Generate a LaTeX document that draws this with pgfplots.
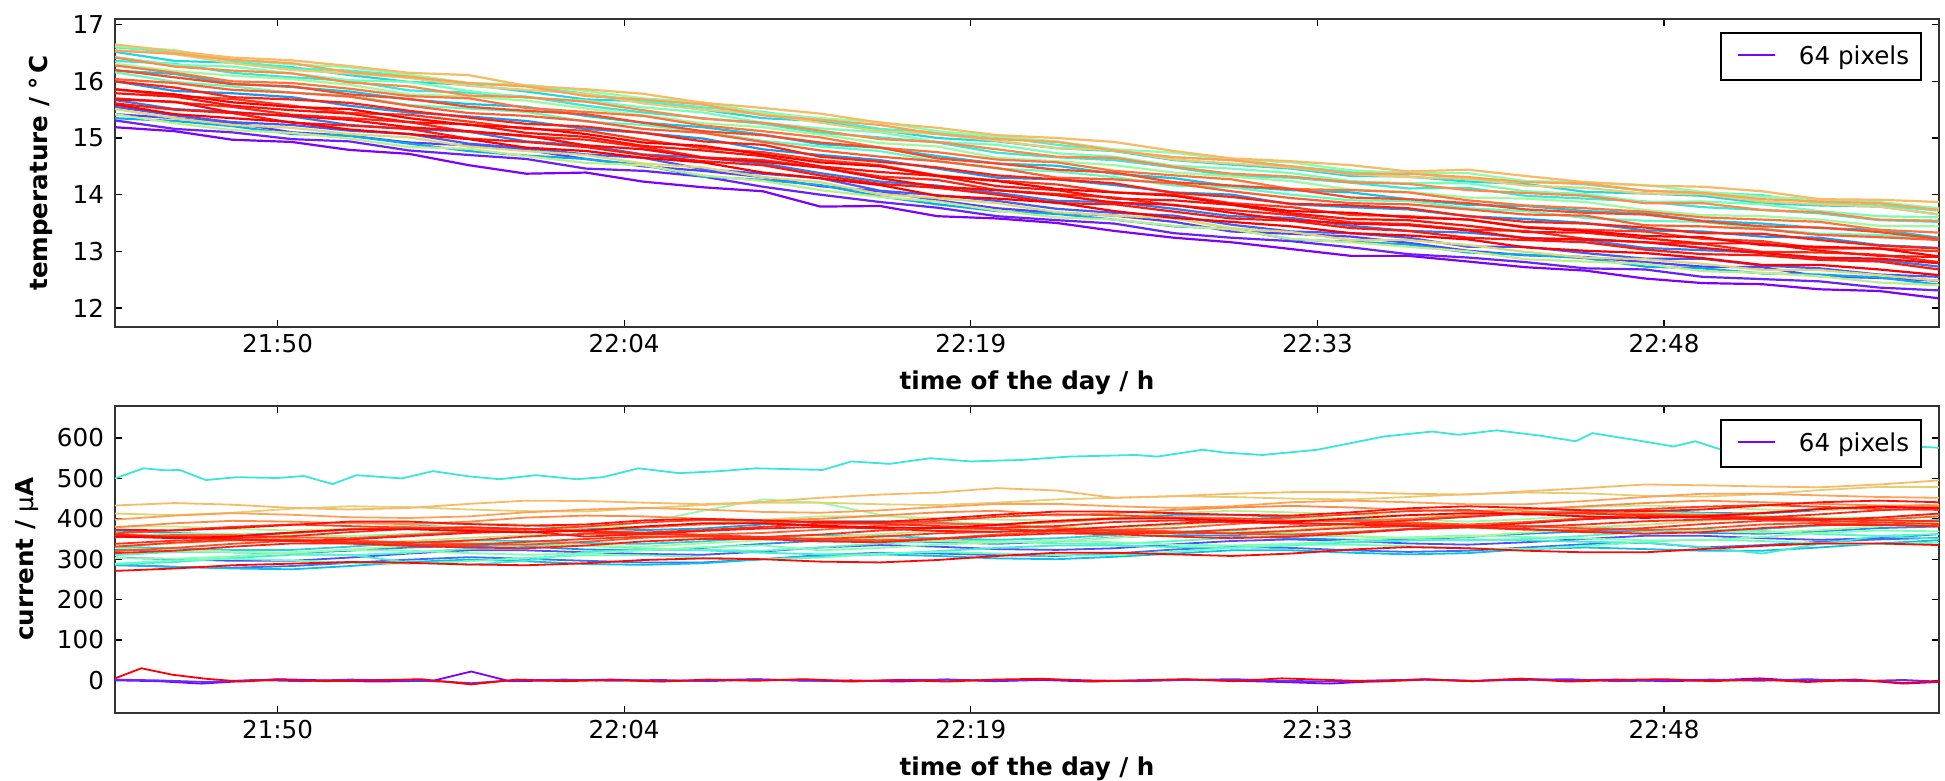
\documentclass[border=0pt]{standalone}
\usepackage{fontspec}
\setmainfont{DejaVu Sans}
\usepackage{pgfplots}
\usepackage{pgfplotstable}
\pgfplotsset{compat=1.18}

% matplotlib "rainbow" colour for a pixel position c in [0,1]
\newcommand\rbdef[2]{%
  \pgfmathsetmacro\rbR{min(1,abs(2*#2-0.5))}%
  \pgfmathsetmacro\rbG{sin(180*#2)}%
  \pgfmathsetmacro\rbB{cos(90*#2)}%
  \definecolor{#1}{rgb}{\rbR,\rbG,\rbB}}
\definecolor{r00}{rgb}{0.5,0,1}
\definecolor{r100}{rgb}{1,0,0}
\rbdef{r04}{0.04}\rbdef{r06}{0.06}\rbdef{r08}{0.08}\rbdef{r10}{0.10}
\rbdef{r12}{0.12}\rbdef{r15}{0.15}\rbdef{r16}{0.16}\rbdef{r19}{0.19}
\rbdef{r20}{0.20}\rbdef{r23}{0.23}\rbdef{r24}{0.24}\rbdef{r27}{0.27}
\rbdef{r28}{0.28}\rbdef{r31}{0.31}\rbdef{r32}{0.32}\rbdef{r36}{0.36}
\rbdef{r38}{0.38}\rbdef{r40}{0.40}\rbdef{r42}{0.42}\rbdef{r44}{0.44}
\rbdef{r46}{0.46}\rbdef{r48}{0.48}\rbdef{r50}{0.50}\rbdef{r52}{0.52}
\rbdef{r54}{0.54}\rbdef{r56}{0.56}\rbdef{r58}{0.58}\rbdef{r62}{0.62}
\rbdef{r66}{0.66}\rbdef{r68}{0.68}\rbdef{r70}{0.70}\rbdef{r74}{0.74}
\rbdef{r78}{0.78}\rbdef{r82}{0.82}\rbdef{r85}{0.85}\rbdef{r88}{0.88}
\rbdef{r90}{0.90}\rbdef{r91}{0.91}\rbdef{r92}{0.92}\rbdef{r93}{0.93}
\rbdef{r94}{0.94}\rbdef{r95}{0.95}\rbdef{r96}{0.96}\rbdef{r97}{0.97}
\rbdef{r98}{0.98}\rbdef{r99}{0.99}

% temperature of each pixel (one row per pixel), time in minutes after 21:00
\pgfplotstableread{
n c0 c1 c2 c3 c4 c5 c6 c7 c8 c9 c10 c11 c12 c13 c14 c15 c16 c17 c18 c19 c20 c21 c22 c23 c24 c25 c26 c27 c28 c29 c30 c31
x 43.2 45.7 48.1 50.6 53.0 55.5 58.0 60.4 62.9 65.3 67.8 70.3 72.7 75.2 77.6 80.1 82.6 85.0 87.5 89.9 92.4 94.9 97.3 99.8 102.2 104.7 107.2 109.6 112.1 114.5 117.0 119.5
L1 15.19 15.12 14.97 14.93 14.79 14.72 14.52 14.37 14.39 14.23 14.13 14.06 13.79 13.80 13.62 13.58 13.50 13.36 13.24 13.16 13.04 12.92 12.92 12.82 12.72 12.66 12.52 12.44 12.42 12.33 12.30 12.17
L2 15.31 15.16 15.10 14.98 14.94 14.78 14.70 14.63 14.46 14.42 14.32 14.14 14.00 13.87 13.77 13.62 13.55 13.49 13.32 13.24 13.18 13.07 12.95 12.89 12.81 12.70 12.68 12.55 12.51 12.47 12.36 12.31
L3 15.42 15.35 15.27 15.10 15.04 14.92 14.87 14.79 14.63 14.50 14.42 14.31 14.15 14.06 13.90 13.76 13.68 13.63 13.52 13.35 13.31 13.26 13.15 13.01 12.93 12.90 12.81 12.73 12.72 12.56 12.53 12.48
L4 15.55 15.40 15.28 15.23 15.13 15.07 14.90 14.82 14.71 14.65 14.45 14.37 14.29 14.07 13.99 13.89 13.75 13.68 13.63 13.47 13.35 13.32 13.24 13.08 13.08 12.97 12.87 12.87 12.75 12.70 12.59 12.55
L5 15.67 15.51 15.46 15.38 15.23 15.16 15.11 14.94 14.87 14.71 14.65 14.55 14.38 14.23 14.16 14.03 13.89 13.87 13.75 13.62 13.59 13.45 13.36 13.33 13.24 13.20 13.06 13.02 12.98 12.86 12.85 12.73
L6 16.00 15.83 15.79 15.72 15.57 15.45 15.38 15.30 15.16 15.09 14.99 14.80 14.70 14.61 14.46 14.30 14.27 14.17 14.04 14.00 13.83 13.78 13.74 13.62 13.57 13.50 13.37 13.35 13.26 13.24 13.11 13.06
L7 15.35 15.30 15.21 15.07 15.04 14.90 14.77 14.69 14.63 14.52 14.32 14.26 14.17 13.97 13.83 13.71 13.66 13.56 13.44 13.40 13.21 13.17 13.12 12.98 12.94 12.88 12.73 12.70 12.61 12.59 12.54 12.41
L8 16.19 16.13 15.96 15.90 15.82 15.68 15.60 15.55 15.39 15.27 15.19 15.06 14.89 14.83 14.68 14.55 14.51 14.37 14.29 14.15 14.08 14.04 13.92 13.82 13.80 13.71 13.67 13.54 13.49 13.41 13.38 13.24
L9 16.52 16.36 16.33 16.25 16.11 15.99 15.94 15.82 15.68 15.65 15.50 15.35 15.30 15.14 15.00 14.94 14.82 14.77 14.61 14.53 14.46 14.33 14.32 14.23 14.19 14.05 14.02 13.98 13.85 13.81 13.79 13.65
L10 16.36 16.31 16.15 16.07 16.01 15.84 15.80 15.73 15.57 15.45 15.35 15.25 15.09 15.01 14.92 14.74 14.66 14.61 14.48 14.33 14.30 14.21 14.11 14.12 13.98 13.93 13.88 13.78 13.73 13.67 13.55 13.52
L11 16.60 16.52 16.36 16.23 16.19 16.10 15.96 15.92 15.78 15.65 15.54 15.46 15.33 15.16 15.10 15.02 14.88 14.77 14.66 14.61 14.50 14.40 14.39 14.27 14.24 14.18 14.07 14.04 13.99 13.85 13.81 13.72
L12 16.16 15.99 15.91 15.80 15.75 15.58 15.52 15.46 15.29 15.23 15.11 14.95 14.85 14.77 14.59 14.46 14.41 14.31 14.16 14.13 14.00 13.90 13.89 13.76 13.71 13.59 13.54 13.52 13.40 13.31 13.29 13.21
L13 16.43 16.29 16.26 16.14 16.02 15.99 15.83 15.71 15.66 15.54 15.45 15.27 15.17 15.10 14.93 14.88 14.73 14.67 14.51 14.46 14.38 14.24 14.20 14.20 14.06 14.01 13.87 13.88 13.83 13.71 13.62 13.60
L14 16.62 16.55 16.38 16.30 16.25 16.12 15.97 15.94 15.83 15.70 15.63 15.44 15.35 15.28 15.12 15.03 14.94 14.80 14.74 14.62 14.57 14.43 14.38 14.38 14.24 14.22 14.17 14.05 13.96 13.92 13.87 13.76
L15 16.31 16.18 16.10 16.04 15.94 15.77 15.73 15.66 15.52 15.40 15.26 15.19 15.06 14.91 14.85 14.65 14.59 14.52 14.39 14.32 14.24 14.09 14.05 13.95 13.93 13.87 13.73 13.64 13.62 13.56 13.45 13.44
L16 15.42 15.26 15.14 15.09 14.99 14.84 14.81 14.68 14.56 14.52 14.34 14.24 14.08 13.96 13.88 13.72 13.60 13.56 13.45 13.39 13.22 13.16 13.08 13.00 12.86 12.82 12.78 12.65 12.62 12.56 12.45 12.40
L17 15.51 15.35 15.23 15.18 15.07 15.01 14.85 14.77 14.70 14.55 14.48 14.31 14.22 14.01 13.94 13.85 13.69 13.63 13.58 13.41 13.34 13.20 13.20 13.11 12.99 12.89 12.86 12.78 12.67 12.67 12.58 12.48
L18 16.55 16.48 16.32 16.20 16.14 16.06 15.92 15.85 15.78 15.61 15.50 15.42 15.27 15.12 15.07 14.95 14.82 14.79 14.62 14.55 14.48 14.36 14.31 14.28 14.16 14.12 14.02 14.01 13.88 13.83 13.79 13.65
L19 16.65 16.53 16.42 16.37 16.27 16.15 16.11 15.92 15.86 15.78 15.62 15.53 15.43 15.27 15.18 15.05 15.00 14.93 14.77 14.64 14.59 14.52 14.41 14.44 14.33 14.22 14.16 14.14 14.06 13.92 13.91 13.87
L20 16.54 16.49 16.38 16.32 16.16 16.08 15.97 15.91 15.74 15.68 15.59 15.40 15.32 15.23 15.07 14.98 14.93 14.78 14.66 14.61 14.50 14.37 14.37 14.31 14.22 14.20 14.07 14.03 13.92 13.88 13.85 13.73
L21 16.42 16.26 16.19 16.14 15.98 15.91 15.75 15.72 15.64 15.49 15.34 15.27 15.13 14.98 14.93 14.80 14.67 14.65 14.49 14.37 14.32 14.22 14.19 14.08 14.03 13.98 13.85 13.85 13.73 13.69 13.56 13.54
L22 16.28 16.15 16.00 15.97 15.87 15.74 15.70 15.53 15.46 15.39 15.22 15.12 15.01 14.83 14.75 14.62 14.57 14.42 14.34 14.27 14.10 14.08 14.04 13.90 13.81 13.76 13.70 13.60 13.56 13.52 13.38 13.33
L23 16.04 15.97 15.85 15.80 15.73 15.57 15.44 15.39 15.30 15.16 15.09 14.93 14.78 14.67 14.59 14.47 14.30 14.27 14.20 14.06 13.94 13.85 13.83 13.74 13.65 13.63 13.46 13.44 13.39 13.29 13.25 13.20
L24 16.20 16.07 15.95 15.91 15.77 15.69 15.55 15.48 15.42 15.27 15.12 15.05 14.92 14.83 14.64 14.55 14.44 14.39 14.22 14.16 14.10 13.95 13.92 13.85 13.74 13.68 13.65 13.53 13.44 13.42 13.34 13.22
L25 15.86 15.74 15.69 15.57 15.44 15.41 15.29 15.16 15.13 14.97 14.82 14.75 14.61 14.52 14.34 14.25 14.18 14.04 14.00 13.85 13.78 13.64 13.62 13.56 13.43 13.38 13.35 13.22 13.18 13.05 13.05 13.00
L26 15.70 15.63 15.55 15.41 15.35 15.28 15.11 15.03 14.97 14.84 14.66 14.61 14.48 14.32 14.26 14.08 14.01 13.95 13.81 13.73 13.64 13.51 13.48 13.38 13.36 13.22 13.16 13.13 12.99 12.98 12.94 12.81
L27 16.00 15.89 15.72 15.68 15.62 15.48 15.36 15.25 15.20 15.09 14.94 14.88 14.67 14.58 14.48 14.34 14.27 14.20 14.03 13.96 13.84 13.81 13.76 13.62 13.52 13.49 13.42 13.32 13.31 13.20 13.10 13.05
L28 15.61 15.50 15.44 15.27 15.22 15.16 14.99 14.93 14.84 14.70 14.59 14.52 14.34 14.19 14.12 14.00 13.85 13.83 13.70 13.58 13.54 13.41 13.36 13.24 13.20 13.16 13.03 12.95 12.93 12.85 12.82 12.68
L29 15.79 15.73 15.57 15.49 15.43 15.28 15.24 15.09 15.02 14.86 14.78 14.68 14.50 14.40 14.33 14.15 14.08 13.93 13.90 13.82 13.67 13.57 13.55 13.45 13.34 13.33 13.23 13.14 13.14 13.01 12.92 12.90
L30 15.59 15.42 15.35 15.28 15.15 15.07 14.98 14.83 14.77 14.65 14.57 14.39 14.29 14.17 13.98 13.93 13.86 13.71 13.59 13.52 13.44 13.32 13.28 13.21 13.07 13.01 12.97 12.88 12.76 12.76 12.68 12.58
L31 15.68 15.64 15.45 15.39 15.32 15.19 15.12 15.04 14.87 14.80 14.65 14.58 14.48 14.29 14.14 14.08 13.99 13.86 13.82 13.68 13.55 13.49 13.46 13.37 13.23 13.21 13.16 13.06 12.97 12.89 12.87 12.79
L32 15.86 15.77 15.63 15.55 15.51 15.35 15.23 15.18 15.07 14.92 14.86 14.71 14.57 14.50 14.33 14.24 14.10 14.04 13.98 13.83 13.71 13.68 13.60 13.56 13.42 13.36 13.27 13.25 13.11 13.08 13.05 12.91
}\rawtemp
\pgfplotstabletranspose[colnames from=n]\temp\rawtemp

% current of each pixel (one row per pixel)
\pgfplotstableread{
n c0 c1 c2 c3 c4 c5 c6 c7 c8 c9 c10 c11 c12 c13 c14 c15 c16 c17 c18 c19 c20 c21 c22 c23 c24 c25 c26 c27 c28 c29 c30 c31
x 43.2 45.7 48.1 50.6 53.0 55.5 58.0 60.4 62.9 65.3 67.8 70.3 72.7 75.2 77.6 80.1 82.6 85.0 87.5 89.9 92.4 94.9 97.3 99.8 102.2 104.7 107.2 109.6 112.1 114.5 117.0 119.5
B1 304 300 296 296 304 314 322 322 317 313 311 319 329 335 331 325 323 327 337 345 349 345 339 336 342 350 358 358 352 348 352 362
B2 287 281 279 283 291 299 305 301 296 292 292 300 310 316 314 310 308 314 324 330 328 322 318 321 329 337 341 329 335 343 349 353
B3 323 321 317 315 321 329 333 331 324 322 328 338 346 346 342 338 344 354 360 358 352 348 348 355 363 369 369 365 363 369 377 381
B4 371 365 361 365 373 383 389 385 376 372 376 386 394 394 390 386 392 402 410 410 404 400 398 405 415 421 421 415 413 421 429 435
B5 285 281 277 275 283 293 299 295 288 286 290 300 308 312 308 302 300 306 314 322 322 316 312 315 325 329 325 321 321 329 339 347
B6 331 327 323 323 331 341 347 345 340 338 344 354 360 358 352 348 352 360 368 372 360 366 374 379 383 379 373 371 375 383 391 397
B7 287 293 303 311 311 292 286 296 318 324 322 316 312 312 320 328 334 334 330 328 334 342 346 349 347 343 341 330 314 338 357 351
B8 310 318 318 314 310 316 326 334 333 327 323 321 329 339 345 345 339 337 345 353 359 357 351 346 350 358 368 374 370 362 358 362
B9 289 297 301 297 291 289 295 303 310 310 304 300 304 314 318 314 310 310 318 328 336 336 332 327 325 333 343 349 345 339 337 341
B10 303 301 307 317 323 321 315 311 314 322 330 334 322 328 336 342 346 342 336 334 338 346 354 359 355 351 347 347 355 365 371 369
B11 357 363 363 359 357 363 371 375 378 390 420 448 440 410 395 386 380 378 384 394 402 402 398 393 399 409 415 413 407 403 403 411
B12 328 322 318 316 324 334 340 340 333 331 339 347 353 351 345 341 345 353 363 369 365 357 353 356 366 374 374 370 366 372 382 390
B13 381 381 375 371 375 385 389 385 380 380 388 398 406 406 402 398 396 404 414 420 416 410 408 411 421 429 433 429 423 421 427 435
B14 331 339 347 351 339 345 353 359 362 358 352 350 354 362 370 376 372 368 364 364 372 382 388 385 381 379 385 395 401 399 393 389
B15 413 409 415 425 431 429 423 419 418 426 434 440 440 436 434 440 448 452 456 454 450 448 454 461 465 463 457 455 461 471 479 479
B16 433 439 435 427 423 427 437 445 444 440 436 442 452 460 465 476 470 452 456 462 466 466 462 460 468 476 485 483 480 478 485 495
B17 398 408 414 410 404 402 406 416 423 427 423 417 415 421 429 437 437 431 427 431 441 445 441 436 436 444 454 462 462 458 454 452
B18 379 389 395 393 389 387 393 403 408 406 400 396 400 408 416 420 408 414 422 428 432 428 422 419 423 431 439 445 441 437 433 433
B19 361 357 357 365 373 379 379 375 372 378 386 390 394 392 388 386 392 400 404 402 396 394 400 409 417 417 413 409 415 425 431 429
B20 354 360 360 354 352 360 368 374 371 365 361 365 373 383 389 385 377 373 377 387 395 395 391 386 392 402 410 410 404 400 398 406
B21 320 328 338 346 346 342 338 336 343 353 359 355 349 347 351 361 369 373 369 363 361 367 375 382 382 376 372 376 386 390 386 382
B22 364 372 380 386 382 378 374 374 381 391 397 395 391 389 395 405 411 409 403 399 403 411 419 422 410 416 424 430 434 430 424 422
B23 338 346 350 348 342 340 346 356 363 363 359 355 361 371 377 375 369 365 365 373 381 387 387 382 380 386 394 398 402 400 396 394
B24 361 355 353 357 367 375 379 375 368 366 372 380 388 388 382 378 382 392 396 392 388 388 396 405 413 413 409 405 403 411 421 427
B25 315 321 331 339 339 333 329 327 334 344 350 350 344 342 350 358 364 362 356 352 356 364 374 379 375 367 363 367 377 385 385 381
B26 357 355 349 345 349 357 365 369 356 362 370 376 380 376 370 368 372 380 388 394 390 386 382 381 389 399 405 403 399 397 403 413
B27 271 277 285 289 293 291 287 285 290 298 302 300 294 292 298 308 316 316 312 308 314 324 330 327 321 317 317 325 333 339 339 335
B28 356 352 356 366 374 374 370 366 371 381 389 389 383 379 377 385 395 401 401 395 393 401 409 414 412 406 402 406 414 424 430 426
B29 331 341 347 345 339 335 335 343 350 356 356 352 350 356 364 368 372 370 366 364 370 378 382 379 373 371 377 387 395 395 391 387
B30 373 371 377 385 393 393 387 383 386 396 400 396 392 392 400 410 418 418 414 410 408 416 426 431 427 421 419 423 433 441 445 441
}\rawcurr
\pgfplotstabletranspose[colnames from=n]\curr\rawcurr

\pgfplotsset{
  pix/.style={forget plot, #1},
  panel/.style={
    scale only axis, width=912pt,
    xmin=43.2, xmax=119.5,
    xtick={50,64.5,79,93.5,108},
    xticklabels={21:50,22:04,22:19,22:33,22:48},
    tick align=inside, tick pos=both,
    major tick length=3.5pt,
    minor tick num=0,
    tick style={black, line width=0.6pt},
    axis line style={black!80, line width=1.1pt},
    tick label style={font=\fontsize{12.3}{14}\selectfont},
    /pgf/number format/assume math mode=true,
    yticklabel style={xshift=-2pt},
    label style={font=\bfseries\fontsize{12.3}{14}\selectfont},
    xlabel={time of the day / h},
    xlabel style={at={(axis description cs:0.5,0)}, anchor=center, yshift=-28pt},
    no markers,
    every axis plot/.append style={line width=0.9pt},
    legend style={at={(1,1)}, anchor=north east, xshift=-8.5pt, yshift=-6.7pt,
      draw=black, line width=0.9pt, fill=white,
      inner xsep=6pt, inner ysep=6.3pt,
      font=\fontsize{12.3}{14}\selectfont,
      nodes={inner sep=0pt}},
    legend image code/.code={%
      \path[draw=none] (0pt,0pt) -- (32.8pt,0pt);
      \draw[#1] (2.5pt,0.7pt) -- (21pt,0.7pt);},
  }
}

\begin{document}
\begin{tikzpicture}
\path[use as bounding box] (0,0) rectangle (972.5pt,390.5pt);

% ---- temperature ----
\begin{axis}[panel,
  at={(57.5pt,227.15pt)}, anchor=south west, height=153.85pt,
  ymin=11.67, ymax=17.1, ytick={12,13,14,15,16,17},
  ylabel={temperature / °\,C},
  ylabel style={at={(axis description cs:-0.0406,0.5)}, anchor=center},
  every axis plot/.append style={line width=1.1pt}]
\addplot[r00] table[x=x,y=L1]{\temp};
\addlegendentry{64 pixels}
\addplot[pix=r04] table[x=x,y=L2]{\temp};
\addplot[pix=r08] table[x=x,y=L3]{\temp};
\addplot[pix=r12] table[x=x,y=L4]{\temp};
\addplot[pix=r16] table[x=x,y=L5]{\temp};
\addplot[pix=r20] table[x=x,y=L6]{\temp};
\addplot[pix=r24] table[x=x,y=L7]{\temp};
\addplot[pix=r28] table[x=x,y=L8]{\temp};
\addplot[pix=r32] table[x=x,y=L9]{\temp};
\addplot[pix=r36] table[x=x,y=L10]{\temp};
\addplot[pix=r40] table[x=x,y=L11]{\temp};
\addplot[pix=r44] table[x=x,y=L12]{\temp};
\addplot[pix=r48] table[x=x,y=L13]{\temp};
\addplot[pix=r52] table[x=x,y=L14]{\temp};
\addplot[pix=r56] table[x=x,y=L15]{\temp};
\addplot[pix=r62] table[x=x,y=L16]{\temp};
\addplot[pix=r68] table[x=x,y=L17]{\temp};
\addplot[pix=r70] table[x=x,y=L18]{\temp};
\addplot[pix=r74] table[x=x,y=L19]{\temp};
\addplot[pix=r78] table[x=x,y=L20]{\temp};
\addplot[pix=r82] table[x=x,y=L21]{\temp};
\addplot[pix=r85] table[x=x,y=L22]{\temp};
\addplot[pix=r88] table[x=x,y=L23]{\temp};
\addplot[pix=r91] table[x=x,y=L24]{\temp};
\addplot[pix=r93] table[x=x,y=L25]{\temp};
\addplot[pix=r95] table[x=x,y=L26]{\temp};
\addplot[pix=r96] table[x=x,y=L27]{\temp};
\addplot[pix=r97] table[x=x,y=L28]{\temp};
\addplot[pix=r98] table[x=x,y=L29]{\temp};
\addplot[pix=r99] table[x=x,y=L31]{\temp};
\addplot[pix=r100] table[x=x,y=L30]{\temp};
\addplot[pix=r100] table[x=x,y=L32]{\temp};
\end{axis}

% ---- current ----
\begin{axis}[panel,
  at={(57.5pt,34.15pt)}, anchor=south west, height=153.5pt,
  ymin=-80, ymax=680, ytick={0,100,200,300,400,500,600},
  ylabel={current / {\mdseries μ}A},
  ylabel style={at={(axis description cs:-0.0482,0.5)}, anchor=center}]
\addplot[r00] coordinates {(43.2,0) (45,-2) (46.8,-8) (48.5,-2) (50,3) (52,0) (54,-3) (56.5,-1) (58.1,22) (59.7,-2) (62,0) (64,2) (66,-2) (68,0) (70,3) (72,-1) (74,0) (76,-3) (78,2) (80,-2) (82,1) (84,-3) (86,0) (88,2) (90,-1) (92,-4) (94,-8) (96,-2) (98,3) (100,-2) (102,4) (104,0) (106,2) (108,-2) (110,0) (112,5) (114,-2) (116,2) (118,-8) (119.5,-4)};
\addlegendentry{64 pixels}
\addplot[pix=r06] coordinates {(43.2,2) (45,0) (47,-4) (49,1) (51,-2) (53,2) (55,0) (57,-3) (58.1,-7) (59.5,-1) (62,2) (64,-1) (66,1) (68,-2) (70,2) (72,0) (74,-3) (76,1) (78,2) (80,-1) (82,3) (84,0) (86,-2) (88,1) (90,3) (92,-1) (94,-3) (96,0) (98,2) (100,-1) (102,1) (104,3) (106,-2) (108,0) (110,2) (112,-1) (114,3) (116,-2) (118,1) (119.5,-3)};
\addplot[pix=r10] table[x=x,y=B1]{\curr};
\addplot[pix=r15] table[x=x,y=B2]{\curr};
\addplot[pix=r19] table[x=x,y=B3]{\curr};
\addplot[pix=r23] table[x=x,y=B4]{\curr};
\addplot[pix=r27] table[x=x,y=B5]{\curr};
\addplot[pix=r31] table[x=x,y=B6]{\curr};
\addplot[pix=r36] coordinates {(43.2,500) (44.4,525) (45.3,520) (45.9,521) (47.0,496) (48.3,503) (50.0,501) (51.1,506) (52.3,486) (53.3,508) (55.2,500) (56.5,518) (58.0,505) (59.3,498) (60.8,508) (62.5,498) (63.6,503) (65.1,525) (66.8,513) (68.5,518) (70.0,525) (72.8,521) (74.0,542) (75.6,536) (77.3,550) (79.0,542) (81.2,546) (83.1,554) (85.9,558) (86.8,554) (88.7,571) (89.6,564) (91.2,558) (93.5,571) (96.3,604) (98.3,616) (99.4,608) (101.0,619) (102.8,606) (104.3,592) (105.0,612) (106.9,594) (108.4,579) (109.3,592) (110.4,571) (112,568) (114,578) (116,570) (118,580) (119.5,576)};
\addplot[pix=r38] table[x=x,y=B7]{\curr};
\addplot[pix=r42] table[x=x,y=B8]{\curr};
\addplot[pix=r46] table[x=x,y=B9]{\curr};
\addplot[pix=r50] table[x=x,y=B10]{\curr};
\addplot[pix=r54] table[x=x,y=B11]{\curr};
\addplot[pix=r58] table[x=x,y=B12]{\curr};
\addplot[pix=r62] table[x=x,y=B13]{\curr};
\addplot[pix=r66] table[x=x,y=B14]{\curr};
\addplot[pix=r70] table[x=x,y=B15]{\curr};
\addplot[pix=r74] table[x=x,y=B16]{\curr};
\addplot[pix=r78] table[x=x,y=B17]{\curr};
\addplot[pix=r82] table[x=x,y=B18]{\curr};
\addplot[pix=r85] table[x=x,y=B19]{\curr};
\addplot[pix=r88] table[x=x,y=B20]{\curr};
\addplot[pix=r90] table[x=x,y=B21]{\curr};
\addplot[pix=r92] table[x=x,y=B22]{\curr};
\addplot[pix=r93] table[x=x,y=B29]{\curr};
\addplot[pix=r94] table[x=x,y=B23]{\curr};
\addplot[pix=r95] table[x=x,y=B24]{\curr};
\addplot[pix=r96] table[x=x,y=B25]{\curr};
\addplot[pix=r97] table[x=x,y=B26]{\curr};
\addplot[pix=r98] table[x=x,y=B30]{\curr};
\addplot[pix=r99] table[x=x,y=B27]{\curr};
\addplot[pix=r100] coordinates {(43.2,5) (44.3,30) (45.6,14) (47,4) (48.5,-3) (50,2) (52,-2) (54,0) (56,3) (58.1,-10) (60,2) (62,-2) (64,1) (66,-3) (68,2) (70,-1) (72,3) (74,-2) (76,1) (78,-3) (80,2) (82,4) (84,-2) (86,0) (88,3) (90,-2) (92,5) (94,1) (96,-3) (98,2) (100,-2) (102,4) (104,-3) (106,1) (108,3) (110,-2) (112,2) (114,-4) (116,1) (118,-6) (119.5,-2)};
\addplot[pix=r100] table[x=x,y=B28]{\curr};
\end{axis}
\end{tikzpicture}
\end{document}
